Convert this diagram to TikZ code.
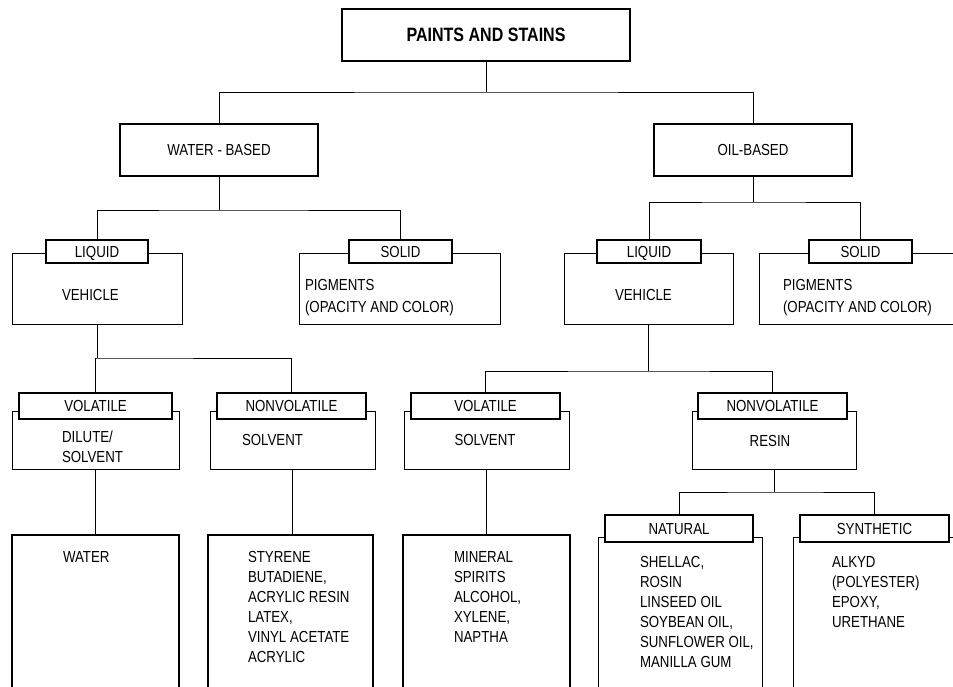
\documentclass[tikz,border=0pt]{standalone}
\usepackage{fontspec}
\setmainfont[FakeStretch=0.83]{Liberation Sans}
\begin{document}
\begin{tikzpicture}[x=0.75pt,y=-0.75pt,
  sz/.style 2 args={minimum width=#1*0.75pt, minimum height=#2*0.75pt},
  box/.style={draw, line width=1.1pt, fill=white, inner sep=0pt, outer sep=0pt,
    font=\fontsize{12}{15}\selectfont},
  cont/.style={draw, line width=0.7pt, inner sep=0pt, outer sep=0pt},
  lab/.style={draw, line width=1.1pt, fill=white, inner sep=0pt, outer sep=0pt,
    text height=8.6pt, text depth=0pt,
    font=\fontsize{12}{15}\selectfont},
  txt/.style={inner sep=0pt, outer sep=0pt, align=left, anchor=north west,
    font=\fontsize{12}{15}\selectfont},
  ctxt/.style={inner sep=0pt, outer sep=0pt, align=center, anchor=north,
    font=\fontsize{12}{15}\selectfont},
  conn/.style={line width=0.7pt}
]
\useasboundingbox (0,0) rectangle (953,686);
\fill[white] (0,0) rectangle (953,686);
\clip (0,0) rectangle (953,686);

% level 0 and 1
\node[box, sz={288}{52}, font=\bfseries\fontsize{14.5}{17}\selectfont] (title) at (486,35) {PAINTS AND STAINS};
\node[box, sz={198}{52}] (wb) at (219,150) {WATER - BASED};
\node[box, sz={198}{52}] (ob) at (753,150) {OIL-BASED};

% level 2 containers
\node[cont, sz={170}{71}] (wlc) at (97,288.5) {};
\node[cont, sz={201}{71}] (wsc) at (399.5,288.5) {};
\node[cont, sz={169}{71}] (olc) at (648.5,288.5) {};
\node[cont, sz={201}{71}] (osc) at (859.5,288.5) {};
% level 2 labels
\node[lab, sz={102}{23}] (wl) at (97,251.5) {LIQUID};
\node[lab, sz={103}{23}] (ws) at (400.5,251.5) {SOLID};
\node[lab, sz={104}{23}] (ol) at (649,251.5) {LIQUID};
\node[lab, sz={103}{23}] (os) at (860.5,251.5) {SOLID};
% level 2 texts
\node[txt] (wlt) at (62,289) {VEHICLE};
\node[txt, font=\fontsize{12}{16.5}\selectfont] (wst) at (305,279) {PIGMENTS\\(OPACITY AND COLOR)};
\node[txt] (olt) at (615,289) {VEHICLE};
\node[txt, font=\fontsize{12}{16.5}\selectfont] (ost) at (783,279) {PIGMENTS\\(OPACITY AND COLOR)};

% level 3 containers
\node[cont, sz={167}{58}] (wvc) at (95.5,440) {};
\node[cont, sz={165}{58}] (wnc) at (292.5,440) {};
\node[cont, sz={165}{58}] (ovc) at (486.5,440) {};
\node[cont, sz={164}{58}] (onc) at (774,440) {};
% level 3 labels
\node[lab, sz={153}{26}] (wv) at (95.5,406) {VOLATILE};
\node[lab, sz={149}{26}] (wn) at (291.5,406) {NONVOLATILE};
\node[lab, sz={149}{26}] (ov) at (485.5,406) {VOLATILE};
\node[lab, sz={149}{26}] (on) at (772.5,406) {NONVOLATILE};
% level 3 texts
\node[txt] (wvt) at (62,431) {DILUTE/\\SOLVENT};
\node[txt] (wnt) at (242,434) {SOLVENT};
\node[ctxt] (ovt) at (485,434) {SOLVENT};
\node[ctxt] (ont) at (770,435) {RESIN};

% level 4 boxes
\node[box, sz={167}{165}] (b1) at (95.5,617.5) {};
\node[box, sz={165}{165}] (b2) at (290.5,617.5) {};
\node[box, sz={167}{165}] (b3) at (486.5,617.5) {};
\node[cont, sz={164}{163}] (natc) at (680,618.5) {};
\node[cont, sz={167}{163}] (sync) at (876.5,618.5) {};
\node[lab, sz={148}{27}] (nat) at (679,528.5) {NATURAL};
\node[lab, sz={149}{27}] (syn) at (874.5,528.5) {SYNTHETIC};
% level 4 texts
\node[txt] (b1t) at (63,551) {WATER};
\node[txt] (b2t) at (248,551) {STYRENE\\BUTADIENE,\\ACRYLIC RESIN\\LATEX,\\VINYL ACETATE\\ACRYLIC};
\node[txt] (b3t) at (454,551) {MINERAL\\SPIRITS\\ALCOHOL,\\XYLENE,\\NAPTHA};
\node[txt] (natt) at (640,556) {SHELLAC,\\ROSIN\\LINSEED OIL\\SOYBEAN OIL,\\SUNFLOWER OIL,\\MANILLA GUM};
\node[txt] (synt) at (832,556) {ALKYD\\(POLYESTER)\\EPOXY,\\URETHANE};

% junction coordinates
\coordinate (j0) at (486,92);
\coordinate (j1) at (219,210);
\coordinate (j2) at (753,202);
\coordinate (j3) at (97,358);
\coordinate (j4) at (648.5,371);
\coordinate (j5) at (774,492);

% connectors
\draw[conn] (title.south) -- (j0);
\draw[conn] (wb.north) |- (j0) -| (ob.north);
\draw[conn] (wb.south) -- (j1);
\draw[conn] (wl.north) |- (j1) -| (ws.north);
\draw[conn] (ob.south) -- (j2);
\draw[conn] (ol.north) |- (j2) -| (os.north);
\draw[conn] (wlc.south) -- (j3);
\draw[conn] (wv.north) |- (j3) -| (wn.north);
\draw[conn] (olc.south) -- (j4);
\draw[conn] (ov.north) |- (j4) -| (on.north);
\draw[conn] (wvc.south) -- (b1.north);
\draw[conn] (wnc.south) -- (wnc.south |- b2.north);
\draw[conn] (ovc.south) -- (b3.north);
\draw[conn] (onc.south) -- (j5);
\draw[conn] (nat.north) |- (j5) -| (syn.north);
\end{tikzpicture}
\end{document}
